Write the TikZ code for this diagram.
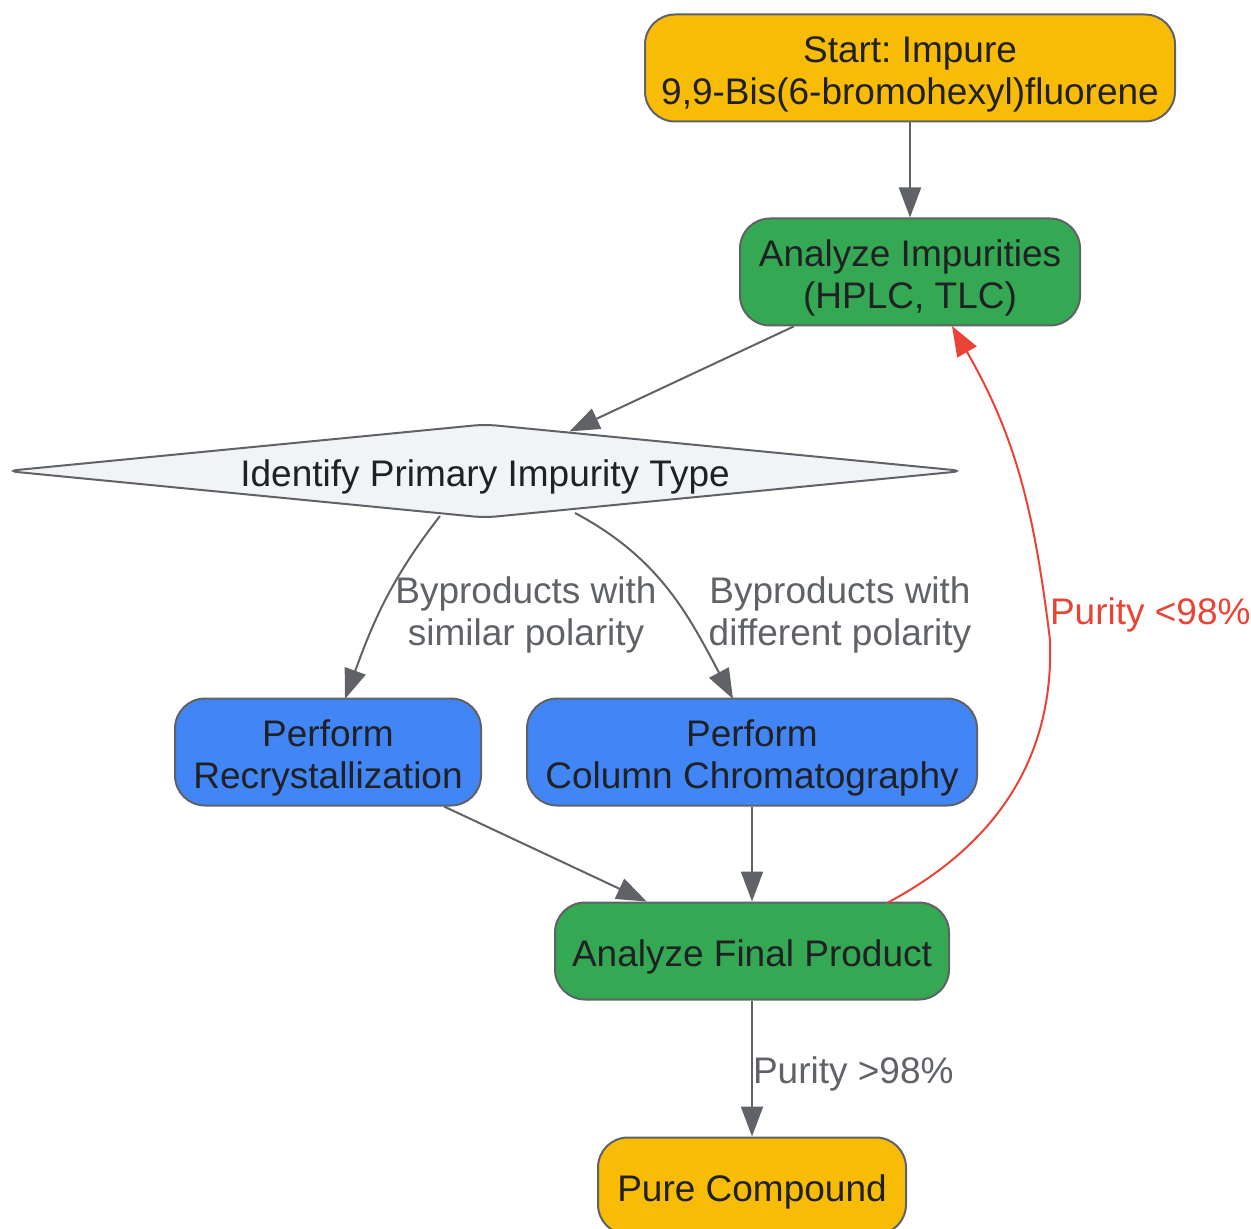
\documentclass[tikz,border=0pt]{standalone}
\usepackage{fontspec}
\setmainfont{Liberation Sans}
\usetikzlibrary{arrows.meta,shapes.geometric}
\usepackage{xcolor}
\definecolor{startyellow}{HTML}{F9BC06}
\definecolor{stepgreen}{HTML}{34A853}
\definecolor{stepblue}{HTML}{4285F4}
\definecolor{decgray}{HTML}{F1F3F4}
\definecolor{edgegray}{HTML}{5F6368}
\definecolor{textdark}{HTML}{202124}
\definecolor{loopred}{HTML}{EA4335}
\newcommand{\hlift}{\rule{0pt}{19.5pt}}
\newcommand{\llift}{\rule{0pt}{16.5pt}}
\frenchspacing

\begin{document}
\begin{tikzpicture}[x=0.5pt,y=-0.5pt,auto]
\tikzstyle{block} = [rectangle, draw=edgegray, line width=1pt, text=textdark,
align=center, rounded corners=15pt, minimum height=53.5pt,
font=\fontsize{18.5}{21}\selectfont]
\tikzstyle{decision} = [diamond, draw=edgegray, line width=1pt, fill=decgray,
text=textdark, shape aspect=10.2, inner sep=0pt, rounded corners=6pt,
minimum width=479pt, minimum height=47pt, font=\fontsize{18.5}{21}\selectfont]
\tikzstyle{line} = [draw=edgegray, line width=1pt, -{Triangle[length=15pt,width=11pt]}];
\tikzstyle{lbl} = [text=edgegray, align=center, font=\fontsize{18.5}{21}\selectfont];
\useasboundingbox (0,0) rectangle (1251,1229);
% row 1
\node [block, fill=startyellow, minimum width=265pt] (start) at (910,68) {\hlift Start: Impure\\9,9-Bis(6-bromohexyl)fluorene};
% row 2
\node [block, fill=stepgreen, minimum width=170pt] (analyze) at (910,272) {\hlift Analyze Impurities\\(HPLC, TLC)};
% row 3
\node [decision] (identify) at (485,471) {\rule{0pt}{19pt}Identify Primary Impurity Type};
% row 4
\node [block, fill=stepblue, minimum width=153pt] (recryst) at (328,752) {\hlift Perform\\Recrystallization};
\node [block, fill=stepblue, minimum width=225pt] (column) at (752,752) {\hlift Perform\\Column Chromatography};
% row 5
\node [block, fill=stepgreen, minimum width=197pt, minimum height=48.5pt] (final) at (752,951) {\hlift Analyze Final Product};
% row 6
\node [block, fill=startyellow, minimum width=154pt, minimum height=48.5pt] (pure) at (752,1186) {\hlift Pure Compound};
\coordinate (simstart) at (440,516);
\coordinate (simend) at (345,699);
\coordinate (difstart) at (575,513);
\coordinate (difend) at (733,699);
\coordinate (loopstart) at (887,903);
\coordinate (loopmid) at (1050,640);
\coordinate (loopend) at (952,326);

\tikzstyle{every path}=[line]
\path (start) -- (analyze);
\path (analyze) -- (identify);
\path (simstart) to[out=-128,in=70] (simend);
\path (difstart) to[out=-28,in=118] (difend);
\path (recryst) -- (final);
\path (column) -- (final);
\path (final) -- (pure);
\path [draw=loopred] (loopstart) to[out=28,in=-88] (loopmid) to[out=97,in=-60] (loopend);

\node [lbl] (simlbl) at (526,612) {\llift Byproducts with\\similar polarity};
\node [lbl] (diflbl) at (840,612) {\llift Byproducts with\\different polarity};
\node [lbl, anchor=west, inner sep=0pt] (purelbl) at (752,1071) {\llift Purity >98\%};
\node [lbl, text=loopred, anchor=west, inner sep=0pt] (looplbl) at (1049,612) {\llift Purity <98\%};
\end{tikzpicture}
\end{document}
